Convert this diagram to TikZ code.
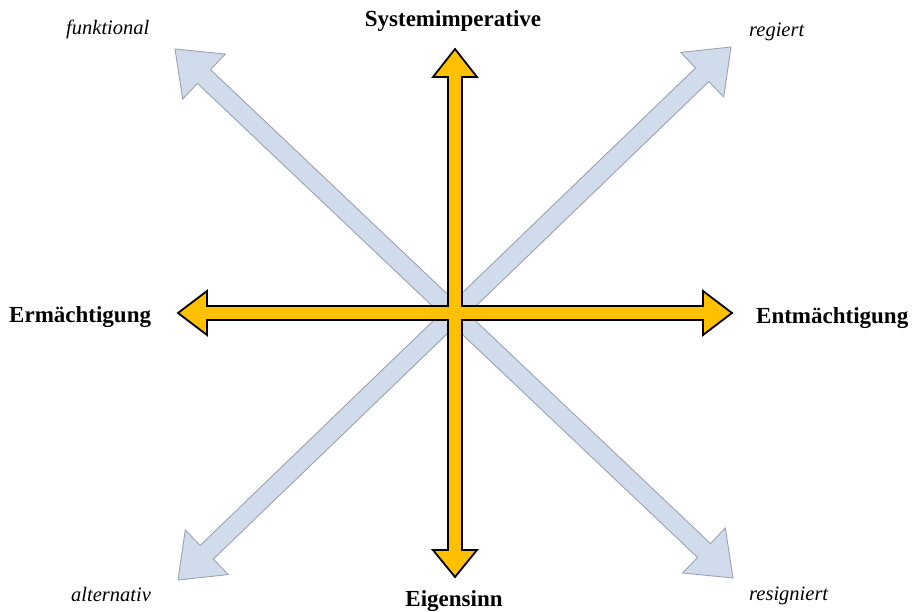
\documentclass[tikz,border=0pt]{standalone}
\usepackage{fontspec}
\setmainfont{Liberation Serif}
\usetikzlibrary{calc}
\definecolor{gold}{HTML}{FFC000}
\definecolor{paleblue}{HTML}{D0DBEC}
\definecolor{blueedge}{HTML}{9AA3AF}
\tikzset{
  diagstyle/.style={fill=paleblue, draw=blueedge, line width=0.9pt, line join=miter},
  crossstyle/.style={fill=gold, draw=black, line width=1.8pt, line join=miter},
  boldlabel/.style={inner sep=0pt, font=\fontsize{23}{27}\selectfont\bfseries},
  itlabel/.style={inner sep=0pt, font=\fontsize{20.5}{24}\selectfont\itshape}
}
\newcommand\diagarrow[2]{%
  \path ($(#1)!40pt!(#2)$) coordinate (#1h) ($(#2)!40pt!(#1)$) coordinate (#2h);
  \draw[diagstyle] (#1) -- ($(#1h)!31pt!90:(#2)$) -- ($(#1h)!9.5pt!90:(#2)$)
    -- ($(#2h)!9.5pt!-90:(#1)$) -- ($(#2h)!31pt!-90:(#1)$) -- (#2)
    -- ($(#2h)!31pt!90:(#1)$) -- ($(#2h)!9.5pt!90:(#1)$)
    -- ($(#1h)!9.5pt!-90:(#2)$) -- ($(#1h)!31pt!-90:(#2)$) -- cycle;}
\begin{document}
\begin{tikzpicture}[x=1pt,y=-1pt]
\useasboundingbox (0,0) rectangle (915,612);
% diagonal tips
\coordinate (tl) at (175,49);
\coordinate (br) at (733,578);
\coordinate (tr) at (731,47);
\coordinate (bl) at (178,580);
\diagarrow{tl}{br}
\diagarrow{tr}{bl}
% cross tips
\coordinate (ntip) at (455,49);
\coordinate (stip) at (455,577);
\coordinate (wtip) at (178,313);
\coordinate (etip) at (732,313);
\draw[crossstyle] (ntip) -- ++(22,28) -- ++(-15,0) |- ($(etip)+(-29,-7)$)
  -- ++(0,-15) -- (etip) -- ++(-29,22) -- ++(0,-15) -| ($(stip)+(7,-27)$)
  -- ++(15,0) -- (stip) -- ++(-22,-27) -- ++(15,0) |- ($(wtip)+(29,7)$)
  -- ++(0,15) -- (wtip) -- ++(29,-22) -- ++(0,15) -| ($(ntip)+(-7,28)$)
  -- ++(-15,0) -- cycle;
% labels
\node[boldlabel, anchor=base] (sys) at (453,27) {Systemimperative};
\node[boldlabel, anchor=base] (eig) at (454,606) {Eigensinn};
\node[boldlabel, anchor=base west] (erm) at (9,322) {Ermächtigung};
\node[boldlabel, anchor=base west] (ent) at (756,323) {Entmächtigung};
\node[itlabel, anchor=base west] (fun) at (66,35) {funktional};
\node[itlabel, anchor=base west] (reg) at (749,37) {regiert};
\node[itlabel, anchor=base west] (alt) at (71,601) {alternativ};
\node[itlabel, anchor=base west] (res) at (749,600) {resigniert};
\end{tikzpicture}
\end{document}
